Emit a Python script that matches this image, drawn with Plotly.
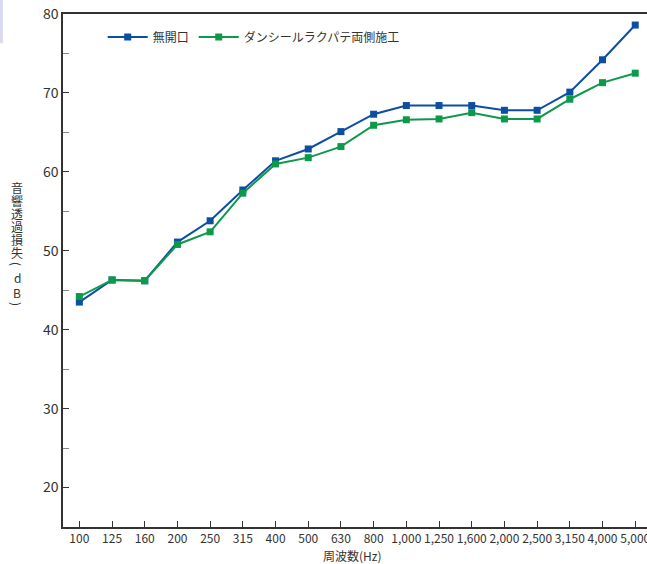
import plotly.graph_objects as go

# 周波数 (Hz) のカテゴリ
freq = ["100", "125", "160", "200", "250", "315", "400", "500", "630", "800",
        "1,000", "1,250", "1,600", "2,000", "2,500", "3,150", "4,000", "5,000"]

# 音響透過損失 (dB)
mukaikou = [43.5, 46.3, 46.2, 51.1, 53.8, 57.7, 61.4, 62.9, 65.1, 67.3,
            68.4, 68.4, 68.4, 67.8, 67.8, 70.1, 74.2, 78.6]
dan_seal = [44.2, 46.3, 46.2, 50.8, 52.4, 57.3, 61.0, 61.8, 63.2, 65.9,
            66.6, 66.7, 67.5, 66.7, 66.7, 69.2, 71.3, 72.5]

series_names = ["無開口", "ダンシールラクパテ両側施工"]
y_ticks = [20, 30, 40, 50, 60, 70, 80]

FONT = "Noto Sans CJK JP"
BLUE = "#0b4ea2"
GREEN = "#0c9a4a"
TXT = "#333333"

fig = go.Figure()
fig.add_trace(go.Scatter(
    x=freq, y=mukaikou, name=series_names[0], mode="lines+markers",
    line=dict(color=BLUE, width=2),
    marker=dict(symbol="square", size=7, color=BLUE)
))
fig.add_trace(go.Scatter(
    x=freq, y=dan_seal, name=series_names[1], mode="lines+markers",
    line=dict(color=GREEN, width=2),
    marker=dict(symbol="square", size=7, color=GREEN)
))

# 縦書きの軸タイトル (文字, 上端からの中心位置px, 回転)
ytitle = [("音", 173, 0), ("響", 186, 0), ("透", 199, 0), ("過", 212, 0),
          ("損", 225, 0), ("失", 238, 0), ("(", 250, 90), ("d", 263, 0),
          ("B", 278, 0), (")", 290, 90)]

annotations = []
for ch, off, ang in ytitle:
    annotations.append(dict(
        text=ch, xref="paper", yref="paper", x=0, y=1,
        xanchor="center", yanchor="middle", xshift=-46, yshift=-off,
        textangle=ang, showarrow=False,
        font=dict(family=FONT, size=12, color=TXT),
    ))
# 横軸タイトル
annotations.append(dict(
    text="周波数(Hz)", xref="paper", yref="paper", x=0.495, y=0,
    xanchor="center", yanchor="middle", yshift=-28, showarrow=False,
    font=dict(family=FONT, size=12, color=TXT),
))

fig.update_layout(
    width=647, height=564,
    margin=dict(l=63, r=0, t=14, b=37),
    paper_bgcolor="white", plot_bgcolor="white",
    font=dict(family=FONT, color=TXT, size=12),
    showlegend=True,
    legend=dict(
        orientation="h", x=0.068, y=0.955, xanchor="left", yanchor="middle",
        font=dict(family=FONT, size=12, color=TXT),
        bgcolor="rgba(0,0,0,0)", itemwidth=40, tracegroupgap=0,
    ),
    xaxis=dict(
        type="category", range=[-0.5, 17.36], automargin=False,
        showline=True, linecolor="#333333", linewidth=1.5, mirror=True,
        ticks="inside", ticklen=6, tickcolor="#333333",
        showgrid=False, zeroline=False,
        tickfont=dict(family=FONT, size=12, color=TXT),
    ),
    yaxis=dict(
        range=[15, 80], tickvals=y_ticks, automargin=False,
        showline=True, linecolor="#333333", linewidth=1.5,
        ticks="inside", ticklen=6, tickcolor="#333333",
        minor=dict(dtick=5, ticks="inside", ticklen=6, tickcolor="#888888"),
        showgrid=False, zeroline=False,
        tickfont=dict(family=FONT, size=14, color=TXT),
    ),
    annotations=annotations,
    shapes=[dict(
        type="rect", xref="paper", yref="paper",
        x0=-0.108, x1=-0.103, y0=0.943, y1=1.03,
        fillcolor="#d9d9f0", line=dict(width=0), layer="below",
    )],
)

# ページ余白をなくして図を左上に合わせる
fig.write_html("out.html", config={"displayModeBar": False},
               post_script="document.body.style.margin='0';")
